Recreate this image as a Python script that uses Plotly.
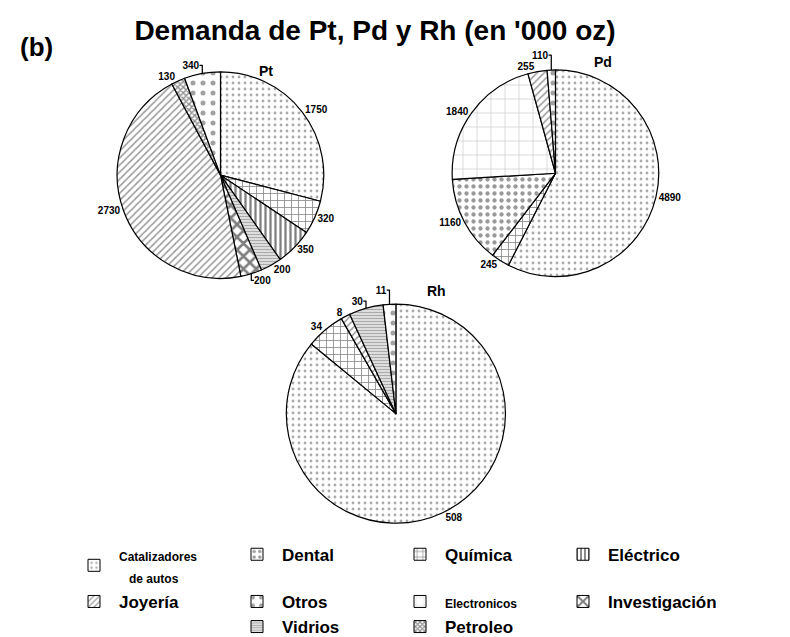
import plotly.graph_objects as go

# ── Data ('000 oz), slices listed clockwise from 12 o'clock ────────────────────
pt_labels = ['Catalizadores de autos', 'Química', 'Eléctrico', 'Vidrios',
             'Investigación', 'Joyería', 'Petroleo', 'Otros']
pt_values = [1750, 320, 350, 200, 200, 2730, 130, 340]

pd_labels = ['Catalizadores de autos', 'Química', 'Dental', 'Electronicos',
             'Joyería', 'Otros']
pd_values = [4890, 245, 1160, 1840, 255, 110]

rh_labels = ['Catalizadores de autos', 'Química', 'Joyería', 'Vidrios', 'Otros']
rh_values = [508, 34, 8, 30, 11]

# '' = empty slot so Vidrios / Petroleo sit in columns 2 and 3
legend_order = ['Catalizadores de autos', 'Dental', 'Química', 'Eléctrico',
                'Joyería', 'Otros', 'Electronicos', 'Investigación',
                '', 'Vidrios', 'Petroleo']

# ── Black & white hatching per use ─────────────────────────────────────────────
PAT = {
    'Catalizadores de autos': dict(shape='.', fgcolor='#555555', size=6, solidity=0.18),
    'Dental':        dict(shape='.', fgcolor='#333333', size=7, solidity=0.3),
    'Química':       dict(shape='+', fgcolor='#111111', size=7, solidity=0.22),
    'Eléctrico':     dict(shape='|', fgcolor='#000000', size=5, solidity=0.45),
    'Joyería':       dict(shape='/', fgcolor='#333333', size=5, solidity=0.3),
    'Otros':         dict(shape='.', fgcolor='#444444', size=10, solidity=0.2),
    'Electronicos':  dict(shape='+', fgcolor='#999999', size=14, solidity=0.1),
    'Investigación': dict(shape='x', fgcolor='#000000', size=9, solidity=0.5),
    'Vidrios':       dict(shape='-', fgcolor='#555555', size=3, solidity=0.6),
    'Petroleo':      dict(shape='x', fgcolor='#222222', size=4, solidity=0.6),
}
LEG_NAMES = {
    'Catalizadores de autos': '<span style="font-size:12px">Catalizadores<br>   de autos</span>',
    'Electronicos': '<span style="font-size:12px">Electronicos</span>',
}
FONT = 'Liberation Sans, Arial, sans-serif'
W, H, OFF = 790, 637, 8   # page body margin shifts the figure by 8px


def px(x, y):
    """reference pixel -> paper fraction"""
    return (x - OFF) / W, 1 - (y - OFF) / H


def pattern_for(labels):
    return dict(
        shape=[PAT[l]['shape'] for l in labels],
        fgcolor=[PAT[l]['fgcolor'] for l in labels],
        bgcolor=['white'] * len(labels),
        size=[PAT[l]['size'] for l in labels],
        solidity=[PAT[l]['solidity'] for l in labels],
        fillmode='overlay',
    )


def pie(labels, values, domain):
    return go.Pie(
        labels=labels, values=values,
        sort=False, direction='clockwise', rotation=0,
        domain=domain,
        marker=dict(colors=['white'] * len(labels),
                    line=dict(color='black', width=1.2),
                    pattern=pattern_for(labels)),
        textinfo='value', textposition='outside',
        outsidetextfont=dict(family=FONT, size=10, color='black', weight='bold'),
        showlegend=False, hoverinfo='label+value',
    )


fig = go.Figure()
fig.add_trace(pie(pt_labels, pt_values, dict(x=[0.1215, 0.4165], y=[0.568, 0.898])))
fig.add_trace(pie(pd_labels, pd_values, dict(x=[0.553, 0.833], y=[0.571, 0.901])))
fig.add_trace(pie(rh_labels, rh_values, dict(x=[0.329, 0.653], y=[0.177, 0.527])))

# legend keys only (no data)
for name in legend_order:
    if name:
        p = PAT[name]
        marker = dict(color='white', line=dict(color='black', width=1),
                      pattern=dict(shape=p['shape'], fgcolor=p['fgcolor'],
                                   bgcolor='white', size=p['size'],
                                   solidity=p['solidity'], fillmode='overlay'))
    else:
        marker = dict(color='rgba(0,0,0,0)', line=dict(width=0))
    fig.add_trace(go.Bar(
        x=[None], y=[None], name=LEG_NAMES.get(name, name) or ' ',
        marker=marker, showlegend=True, hoverinfo='skip',
    ))

for txt, x, y, size in [('Pt', 266, 72, 14), ('Pd', 603, 63, 14), ('Rh', 436, 296, 14),
                        ('(b)', 36, 48, 26)]:
    ax, ay = px(x, y)
    fig.add_annotation(x=ax, y=ay, xref='paper', yref='paper',
                       xanchor='center', yanchor='middle',
                       text=txt, showarrow=False,
                       font=dict(family=FONT, size=size, color='black', weight='bold'))

tx, ty = px(375, 30)
lx, ly = px(69, 546)
fig.update_layout(
    width=W, height=H,
    paper_bgcolor='white', plot_bgcolor='white',
    margin=dict(l=0, r=0, t=0, b=0),
    title=dict(text="Demanda de Pt, Pd y Rh (en '000 oz)",
               x=tx, xanchor='center', y=ty, yanchor='middle',
               font=dict(family=FONT, size=28, color='black', weight='bold')),
    font=dict(family=FONT, color='black'),
    xaxis=dict(visible=False, domain=[0, 1]),
    yaxis=dict(visible=False, domain=[0, 0.01]),
    legend=dict(
        orientation='h', x=lx, xanchor='left', y=ly, yanchor='top',
        entrywidth=108, entrywidthmode='pixels', itemwidth=40,
        font=dict(family=FONT, size=17, color='black', weight='bold'),
        bgcolor='rgba(0,0,0,0)', traceorder='normal',
    ),
)

fig.write_html('out.html')
